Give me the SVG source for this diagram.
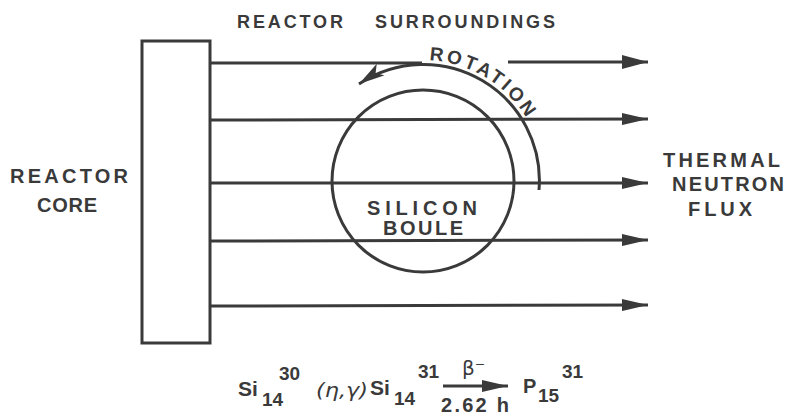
<svg xmlns="http://www.w3.org/2000/svg" width="786" height="415" viewBox="0 0 786 415">
<style>
.ln{stroke:#3a3a3a;stroke-width:3;fill:none}
.t{font-family:"Liberation Sans",Arial,sans-serif;font-weight:bold;fill:#3a3a3a}
.g{font-family:"DejaVu Sans",sans-serif;fill:#3a3a3a}
</style>
<defs>
<marker id="ah" markerUnits="userSpaceOnUse" markerWidth="26" markerHeight="12" refX="26" refY="6" orient="auto"><path d="M0,0 L26,6 L0,12 Z" fill="#3a3a3a"/></marker>
<marker id="ahBig" markerUnits="userSpaceOnUse" markerWidth="26" markerHeight="14" refX="26" refY="7" orient="auto"><path d="M0,0 L26,7 L0,14 Z" fill="#3a3a3a"/></marker>
<marker id="ahRot" markerUnits="userSpaceOnUse" markerWidth="26" markerHeight="14" refX="26" refY="7" orient="auto"><path d="M0,0 L26,7 L0,14 L6,7 Z" fill="#3a3a3a"/></marker>
<path id="rotPath" d="M 429.3 60.2 A 121 121 0 0 1 532.7 129.9"/>
</defs>
<rect width="786" height="415" fill="#fff"/>
<g id="reactor-core">
<rect x="142" y="41" width="68" height="302" class="ln"/>
<text class="t" x="10" y="183" font-size="20" textLength="118" lengthAdjust="spacing">REACTOR</text>
<text class="t" x="37" y="212" font-size="20" textLength="60" lengthAdjust="spacing">CORE</text>
</g>
<g id="surroundings">
<text class="t" x="237" y="28" font-size="18" textLength="106" lengthAdjust="spacing">REACTOR</text>
<text class="t" x="375" y="28" font-size="18" textLength="180" lengthAdjust="spacing">SURROUNDINGS</text>
</g>
<g id="silicon-boule">
<circle cx="423" cy="181" r="91" class="ln"/>
<text class="t" x="367" y="215" font-size="20" textLength="110" lengthAdjust="spacing">SILICON</text>
<text class="t" x="383" y="235" font-size="20" textLength="80" lengthAdjust="spacing">BOULE</text>
</g>
<g id="rotation">
<path d="M 539 190 A 116 116 0 0 0 359 84" class="ln" marker-end="url(#ahRot)"/>
<text class="t" font-size="19"><textPath href="#rotPath" textLength="117" lengthAdjust="spacing">ROTATION</textPath></text>
</g>
<g id="flux-label">
<text class="t" x="663" y="167" font-size="20" textLength="117" lengthAdjust="spacing">THERMAL</text>
<text class="t" x="672" y="191" font-size="20" textLength="112" lengthAdjust="spacing">NEUTRON</text>
<text class="t" x="688" y="216" font-size="20" textLength="64" lengthAdjust="spacing">FLUX</text>
</g>
<g id="connectors">
<line x1="210" y1="63" x2="422" y2="63" class="ln"/>
<line x1="508" y1="62" x2="648" y2="62" class="ln" marker-end="url(#ahBig)"/>
<line x1="210" y1="120" x2="648" y2="119" class="ln" marker-end="url(#ah)"/>
<line x1="210" y1="183" x2="648" y2="183" class="ln" marker-end="url(#ah)"/>
<line x1="210" y1="241" x2="648" y2="240" class="ln" marker-end="url(#ah)"/>
<line x1="210" y1="306" x2="648" y2="305" class="ln" marker-end="url(#ah)"/>
<line x1="443" y1="386" x2="508" y2="386" class="ln" stroke-width="2.5" marker-end="url(#ah)"/>
</g>
<g id="equation">
<text class="t" x="238" y="396" font-size="21">Si</text>
<text class="t" x="262" y="406" font-size="19">14</text>
<text class="t" x="279" y="380" font-size="19">30</text>
<text class="g" x="316" y="397" font-size="19" font-style="italic" textLength="52" lengthAdjust="spacingAndGlyphs">(η,γ)</text>
<text class="t" x="370" y="395" font-size="21">Si</text>
<text class="t" x="394" y="405" font-size="19">14</text>
<text class="t" x="418" y="378" font-size="19">31</text>
<text class="g" x="462" y="375" font-size="20">β⁻</text>
<text class="t" x="441" y="412" font-size="20" textLength="68" lengthAdjust="spacing">2.62 h</text>
<text class="t" x="523" y="393" font-size="20">P</text>
<text class="t" x="538" y="402" font-size="19">15</text>
<text class="t" x="562" y="378" font-size="19">31</text>
</g>
</svg>
